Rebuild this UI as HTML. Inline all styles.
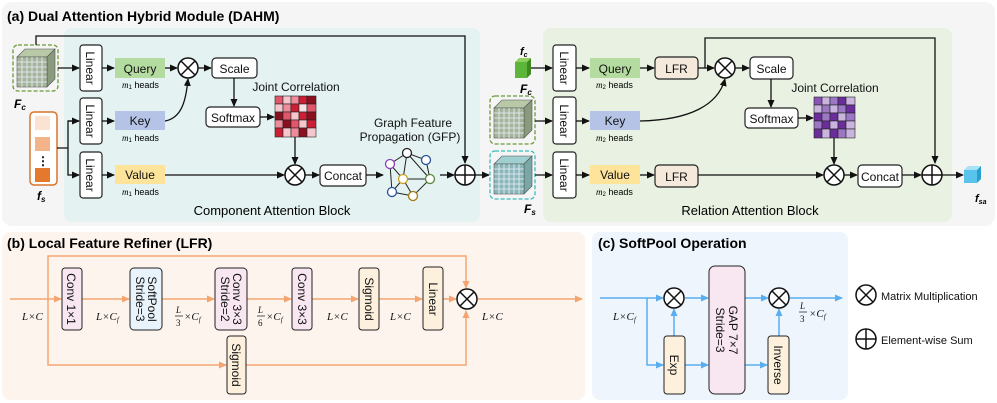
<!DOCTYPE html>
<html><head><meta charset="utf-8"><style>
body{margin:0;background:#fff}
svg{display:block;font-family:"Liberation Sans",sans-serif}
.t{font-size:12px;fill:#111}
.b{fill:#fff;stroke:#222;stroke-width:1.2}
.k{stroke:#111;stroke-width:1.3;fill:none}
.o{stroke:#f3a571;stroke-width:1.5;fill:none}
.u{stroke:#5aaef0;stroke-width:1.5;fill:none}
.m{font-family:"Liberation Serif",serif;font-style:italic;font-size:11px;fill:#111}
</style></head><body>
<svg width="997" height="403" viewBox="0 0 997 403">
<defs>
<marker id="ak" markerWidth="8" markerHeight="8" refX="7" refY="4" orient="auto" markerUnits="userSpaceOnUse"><path d="M0,0.5 L8,4 L0,7.5z" fill="#111"/></marker>
<marker id="ao" markerWidth="8" markerHeight="8" refX="7" refY="4" orient="auto" markerUnits="userSpaceOnUse"><path d="M0,0.5 L8,4 L0,7.5z" fill="#f3a571"/></marker>
<marker id="au" markerWidth="8" markerHeight="8" refX="7" refY="4" orient="auto" markerUnits="userSpaceOnUse"><path d="M0,0.5 L8,4 L0,7.5z" fill="#5aaef0"/></marker>
<g id="gcube">
<polygon points="0,8 8,0 38,0 30,8" fill="#b9c9a8" stroke="#555" stroke-width="0.6"/>
<polygon points="30,8 38,0 38,30 30,38" fill="#8a9a7c" stroke="#555" stroke-width="0.6"/>
<rect x="0" y="8" width="30" height="30" fill="#a5b59a" stroke="#555" stroke-width="0.6"/>
<path d="M5,8v30M10,8v30M15,8v30M20,8v30M25,8v30M0,13h30M0,18h30M0,23h30M0,28h30M0,33h30" stroke="#eef" stroke-width="0.8"/>
</g>
<g id="ccube">
<polygon points="0,8 8,0 38,0 30,8" fill="#9fcfcf" stroke="#555" stroke-width="0.6"/>
<polygon points="30,8 38,0 38,30 30,38" fill="#7aa6a6" stroke="#555" stroke-width="0.6"/>
<rect x="0" y="8" width="30" height="30" fill="#8ab8b8" stroke="#555" stroke-width="0.6"/>
<path d="M5,8v30M10,8v30M15,8v30M20,8v30M25,8v30M0,13h30M0,18h30M0,23h30M0,28h30M0,33h30" stroke="#eef" stroke-width="0.8"/>
</g>
<g id="otimes"><circle r="10" fill="#fff" stroke="#111" stroke-width="1.5"/><path d="M-7,-7L7,7M7,-7L-7,7" stroke="#111" stroke-width="1.5"/></g>
<g id="oplus"><circle r="10" fill="#fff" stroke="#111" stroke-width="1.5"/><path d="M-10,0H10M0,-10V10" stroke="#111" stroke-width="1.5"/></g>
</defs>

<!-- Panel A -->
<rect x="2" y="2" width="993" height="224" rx="10" fill="#f5f5f5"/>
<rect x="64" y="28" width="416" height="194" rx="8" fill="#e4f2f1"/>
<rect x="543" y="28" width="409" height="194" rx="8" fill="#e9f2e2"/>
<text x="7" y="21" style="font-size:14px;font-weight:bold">(a)  Dual Attention Hybrid Module  (DAHM)</text>

<rect x="13" y="45" width="45" height="46" rx="5" fill="none" stroke="#6a9a3a" stroke-width="1.3" stroke-dasharray="4,2"/>
<use href="#gcube" x="17" y="49"/>
<text x="14" y="108" style="font-size:12px;font-weight:bold;font-style:italic">F<tspan style="font-size:8px" dy="2">c</tspan></text>
<rect x="30" y="112" width="27" height="73" rx="4" fill="#fff" stroke="#d9742c" stroke-width="1.5"/>
<rect x="35" y="116" width="15" height="14" fill="#fbe3d4"/>
<rect x="35" y="137" width="15" height="14" fill="#f3b48a"/>
<text x="43" y="165" text-anchor="middle" style="font-size:12px;font-weight:bold">⋮</text>
<rect x="35" y="168" width="15" height="14" fill="#e4792e"/>
<text x="37" y="200" style="font-size:12px;font-weight:bold;font-style:italic">f<tspan style="font-size:8px" dy="2">s</tspan></text>

<path class="k" d="M36,45V36H465V163" marker-end="url(#ak)"/>
<path class="k" d="M58,68H79" marker-end="url(#ak)"/>
<path class="k" d="M57,148H68V121H79M68,148V175H79" marker-end="url(#ak)"/>
<path class="k" d="M68,121H79" marker-end="url(#ak)"/>

<rect class="b" x="80" y="45" width="22" height="46" rx="3"/>
<rect class="b" x="80" y="98" width="22" height="46" rx="3"/>
<rect class="b" x="80" y="152" width="22" height="46" rx="3"/>
<text class="t" transform="translate(86,68) rotate(90)" text-anchor="middle">Linear</text>
<text class="t" transform="translate(86,121) rotate(90)" text-anchor="middle">Linear</text>
<text class="t" transform="translate(86,175) rotate(90)" text-anchor="middle">Linear</text>
<path class="k" d="M102,68H114" marker-end="url(#ak)"/>
<path class="k" d="M102,121H114" marker-end="url(#ak)"/>
<path class="k" d="M102,175H114" marker-end="url(#ak)"/>
<rect x="115" y="58" width="50" height="20" fill="#b5dca0"/><text class="t" x="140" y="73" text-anchor="middle">Query</text>
<rect x="115" y="111" width="50" height="19" fill="#b4c3e6"/><text class="t" x="140" y="125" text-anchor="middle">Key</text>
<rect x="115" y="165" width="50" height="19" fill="#fde49a"/><text class="t" x="140" y="179" text-anchor="middle">Value</text>
<text x="122" y="88" style="font-size:9px"><tspan style="font-style:italic;font-family:'Liberation Serif'">m</tspan><tspan style="font-size:6px" dy="1">1</tspan><tspan dy="-1"> heads</tspan></text>
<text x="122" y="141" style="font-size:9px"><tspan style="font-style:italic;font-family:'Liberation Serif'">m</tspan><tspan style="font-size:6px" dy="1">1</tspan><tspan dy="-1"> heads</tspan></text>
<text x="122" y="195" style="font-size:9px"><tspan style="font-style:italic;font-family:'Liberation Serif'">m</tspan><tspan style="font-size:6px" dy="1">1</tspan><tspan dy="-1"> heads</tspan></text>
<path class="k" d="M165,68H177" marker-end="url(#ak)"/>
<path class="k" d="M165,121C182,118 186,100 188,79" marker-end="url(#ak)"/>
<use href="#otimes" x="188" y="68"/>
<path class="k" d="M198,68H211" marker-end="url(#ak)"/>
<rect class="b" x="212" y="58" width="45" height="20" rx="4"/><text class="t" x="234.5" y="73" text-anchor="middle">Scale</text>
<path class="k" d="M234,78V106" marker-end="url(#ak)"/>
<rect class="b" x="206" y="107" width="54" height="20" rx="4"/><text class="t" x="233" y="122" text-anchor="middle">Softmax</text>
<path class="k" d="M260,117H274" marker-end="url(#ak)"/>
<text class="t" x="296" y="91" text-anchor="middle">Joint Correlation</text>
<g transform="translate(275,96)">
<rect width="41" height="41" fill="#222"/>
<g stroke="#222" stroke-width="0.6">
<rect x="0" y="0" width="8" height="8" fill="#e0566a"/><rect x="8" y="0" width="8" height="8" fill="#f7c6cd"/><rect x="16" y="0" width="8" height="8" fill="#ee8a99"/><rect x="24" y="0" width="8" height="8" fill="#cc1f35"/><rect x="32" y="0" width="9" height="8" fill="#8a1020"/>
<rect x="0" y="8" width="8" height="8" fill="#f7c6cd"/><rect x="8" y="8" width="8" height="8" fill="#ee8a99"/><rect x="16" y="8" width="8" height="8" fill="#cc1f35"/><rect x="24" y="8" width="8" height="8" fill="#fbe0e4"/><rect x="32" y="8" width="9" height="8" fill="#e0566a"/>
<rect x="0" y="16" width="8" height="8" fill="#8a1020"/><rect x="8" y="16" width="8" height="8" fill="#e0566a"/><rect x="16" y="16" width="8" height="8" fill="#f7c6cd"/><rect x="24" y="16" width="8" height="8" fill="#cc1f35"/><rect x="32" y="16" width="9" height="8" fill="#8a1020"/>
<rect x="0" y="24" width="8" height="8" fill="#ee8a99"/><rect x="8" y="24" width="8" height="8" fill="#8a1020"/><rect x="16" y="24" width="8" height="8" fill="#e0566a"/><rect x="24" y="24" width="8" height="8" fill="#f7c6cd"/><rect x="32" y="24" width="9" height="8" fill="#cc1f35"/>
<rect x="0" y="32" width="8" height="9" fill="#cc1f35"/><rect x="8" y="32" width="8" height="9" fill="#f7c6cd"/><rect x="16" y="32" width="8" height="9" fill="#ee8a99"/><rect x="24" y="32" width="8" height="9" fill="#8a1020"/><rect x="32" y="32" width="9" height="9" fill="#f7c6cd"/>
</g></g>
<path class="k" d="M295,137V164" marker-end="url(#ak)"/>
<path class="k" d="M165,175H284" marker-end="url(#ak)"/>
<use href="#otimes" x="295" y="175"/>
<path class="k" d="M305,175H319" marker-end="url(#ak)"/>
<rect class="b" x="320" y="165" width="46" height="21" rx="4"/><text class="t" x="343" y="180" text-anchor="middle">Concat</text>
<path class="k" d="M366,175H383" marker-end="url(#ak)"/>
<text class="t" x="413" y="127" text-anchor="middle">Graph Feature</text>
<text class="t" x="410" y="141" text-anchor="middle">Propagation (GFP)</text>
<g stroke="#222" stroke-width="1" fill="none">
<path d="M407,153L390,164L403,179L392,192L413,196L430,179L426,160L407,153L403,179L430,179M390,164L392,192M407,153L430,179M403,179L413,196"/>
</g>
<g stroke-width="1.3" fill="#fff">
<circle cx="407" cy="153" r="4.5" stroke="#222"/><circle cx="390" cy="164" r="4.5" stroke="#8a3fb8"/><circle cx="426" cy="160" r="4.5" stroke="#2a4f9a"/>
<circle cx="403" cy="179" r="4.5" stroke="#c9a020"/><circle cx="430" cy="179" r="4.5" stroke="#5a8a3a"/><circle cx="392" cy="192" r="4.5" stroke="#2a4f9a"/><circle cx="413" cy="196" r="4.5" stroke="#a07a10"/>
</g>
<path class="k" d="M440,175H454" marker-end="url(#ak)"/>
<use href="#oplus" x="465" y="175"/>
<path class="k" d="M475,175H489" marker-end="url(#ak)"/>
<text x="272" y="215" text-anchor="middle" style="font-size:13px">Component Attention Block</text>

<!-- right half -->
<text x="520" y="55" style="font-size:11px;font-weight:bold;font-style:italic">f<tspan style="font-size:7px" dy="2">c</tspan></text>
<polygon points="515,62 519,58 531,58 527,62" fill="#8fd060"/><polygon points="527,62 531,58 531,74 527,78" fill="#3e8a20"/><rect x="515" y="62" width="12" height="16" fill="#5db53a"/>
<text x="520" y="93" style="font-size:12px;font-weight:bold;font-style:italic">F<tspan style="font-size:8px" dy="2">c</tspan></text>
<rect x="490" y="96" width="45" height="48" rx="5" fill="none" stroke="#6a9a3a" stroke-width="1.3" stroke-dasharray="4,2"/>
<use href="#gcube" x="494" y="100"/>
<rect x="490" y="151" width="45" height="48" rx="5" fill="none" stroke="#3bbcbc" stroke-width="1.3" stroke-dasharray="4,2"/>
<use href="#ccube" x="494" y="156"/>
<text x="524" y="213" style="font-size:12px;font-weight:bold;font-style:italic">F<tspan style="font-size:8px" dy="2">s</tspan></text>
<path class="k" d="M531,68H552" marker-end="url(#ak)"/>
<path class="k" d="M535,121H552" marker-end="url(#ak)"/>
<path class="k" d="M535,175H552" marker-end="url(#ak)"/>
<rect class="b" x="553" y="45" width="23" height="46" rx="3"/>
<rect class="b" x="553" y="97" width="23" height="47" rx="3"/>
<rect class="b" x="553" y="152" width="23" height="46" rx="3"/>
<text class="t" transform="translate(560,68) rotate(90)" text-anchor="middle">Linear</text>
<text class="t" transform="translate(560,121) rotate(90)" text-anchor="middle">Linear</text>
<text class="t" transform="translate(560,175) rotate(90)" text-anchor="middle">Linear</text>
<path class="k" d="M576,68H589" marker-end="url(#ak)"/>
<path class="k" d="M576,121H589" marker-end="url(#ak)"/>
<path class="k" d="M576,175H589" marker-end="url(#ak)"/>
<rect x="590" y="58" width="50" height="20" fill="#b5dca0"/><text class="t" x="615" y="73" text-anchor="middle">Query</text>
<rect x="590" y="111" width="50" height="19" fill="#b4c3e6"/><text class="t" x="615" y="125" text-anchor="middle">Key</text>
<rect x="590" y="165" width="50" height="19" fill="#fde49a"/><text class="t" x="615" y="179" text-anchor="middle">Value</text>
<text x="596" y="88" style="font-size:9px"><tspan style="font-style:italic;font-family:'Liberation Serif'">m</tspan><tspan style="font-size:6px" dy="1">2</tspan><tspan dy="-1"> heads</tspan></text>
<text x="596" y="141" style="font-size:9px"><tspan style="font-style:italic;font-family:'Liberation Serif'">m</tspan><tspan style="font-size:6px" dy="1">2</tspan><tspan dy="-1"> heads</tspan></text>
<text x="596" y="195" style="font-size:9px"><tspan style="font-style:italic;font-family:'Liberation Serif'">m</tspan><tspan style="font-size:6px" dy="1">2</tspan><tspan dy="-1"> heads</tspan></text>
<path class="k" d="M640,68H654" marker-end="url(#ak)"/>
<path class="k" d="M640,175H654" marker-end="url(#ak)"/>
<rect x="655" y="57" width="43" height="22" rx="4" fill="#f5e9dc" stroke="#222" stroke-width="1.2"/><text class="t" x="676.5" y="73" text-anchor="middle">LFR</text>
<rect x="655" y="165" width="43" height="22" rx="4" fill="#f5e9dc" stroke="#222" stroke-width="1.2"/><text class="t" x="676.5" y="181" text-anchor="middle">LFR</text>
<path class="k" d="M698,68H714" marker-end="url(#ak)"/>
<path class="k" d="M705,68V38H935V163" marker-end="url(#ak)"/>
<path class="k" d="M640,121C690,120 718,105 725,79" marker-end="url(#ak)"/>
<use href="#otimes" x="725" y="68"/>
<path class="k" d="M735,68H749" marker-end="url(#ak)"/>
<rect class="b" x="750" y="57" width="43" height="22" rx="4"/><text class="t" x="771.5" y="73" text-anchor="middle">Scale</text>
<path class="k" d="M771,79V107" marker-end="url(#ak)"/>
<rect class="b" x="745" y="108" width="53" height="20" rx="4"/><text class="t" x="771.5" y="123" text-anchor="middle">Softmax</text>
<path class="k" d="M798,118H813" marker-end="url(#ak)"/>
<text class="t" x="835" y="92" text-anchor="middle">Joint Correlation</text>
<g transform="translate(814,97)">
<rect width="41" height="41" fill="#222"/>
<g stroke="#222" stroke-width="0.6">
<rect x="0" y="0" width="8" height="8" fill="#8a55b5"/><rect x="8" y="0" width="8" height="8" fill="#c8b4dd"/><rect x="16" y="0" width="8" height="8" fill="#9b77c4"/><rect x="24" y="0" width="8" height="8" fill="#6a2d9a"/><rect x="32" y="0" width="9" height="8" fill="#c8b4dd"/>
<rect x="0" y="8" width="8" height="8" fill="#c8b4dd"/><rect x="8" y="8" width="8" height="8" fill="#9b77c4"/><rect x="16" y="8" width="8" height="8" fill="#c8b4dd"/><rect x="24" y="8" width="8" height="8" fill="#9b77c4"/><rect x="32" y="8" width="9" height="8" fill="#6a2d9a"/>
<rect x="0" y="16" width="8" height="8" fill="#6a2d9a"/><rect x="8" y="16" width="8" height="8" fill="#9b77c4"/><rect x="16" y="16" width="8" height="8" fill="#6a2d9a"/><rect x="24" y="16" width="8" height="8" fill="#c8b4dd"/><rect x="32" y="16" width="9" height="8" fill="#9b77c4"/>
<rect x="0" y="24" width="8" height="8" fill="#9b77c4"/><rect x="8" y="24" width="8" height="8" fill="#6a2d9a"/><rect x="16" y="24" width="8" height="8" fill="#c8b4dd"/><rect x="24" y="24" width="8" height="8" fill="#6a2d9a"/><rect x="32" y="24" width="9" height="8" fill="#c8b4dd"/>
<rect x="0" y="32" width="8" height="9" fill="#6a2d9a"/><rect x="8" y="32" width="8" height="9" fill="#c8b4dd"/><rect x="16" y="32" width="8" height="9" fill="#6a2d9a"/><rect x="24" y="32" width="8" height="9" fill="#9b77c4"/><rect x="32" y="32" width="9" height="9" fill="#c8b4dd"/>
</g></g>
<path class="k" d="M834,138V164" marker-end="url(#ak)"/>
<path class="k" d="M698,175H823" marker-end="url(#ak)"/>
<use href="#otimes" x="834" y="175"/>
<path class="k" d="M844,175H857" marker-end="url(#ak)"/>
<rect class="b" x="858" y="165" width="44" height="22" rx="4"/><text class="t" x="880" y="181" text-anchor="middle">Concat</text>
<path class="k" d="M902,175H921" marker-end="url(#ak)"/>
<use href="#oplus" x="932" y="175"/>
<path class="k" d="M942,175H963" marker-end="url(#ak)"/>
<polygon points="964,170 968,166 981,166 977,170" fill="#a7e3f5"/><polygon points="977,170 981,166 981,179 977,183" fill="#2a9fcf"/><rect x="964" y="170" width="13" height="13" fill="#58c4ec"/>
<text x="975" y="202" style="font-size:11px;font-weight:bold;font-style:italic">f<tspan style="font-size:7px" dy="2">sa</tspan></text>
<text x="750" y="215" text-anchor="middle" style="font-size:13px">Relation Attention Block</text>

<!-- Panel B -->
<rect x="2" y="232" width="583" height="168" rx="8" fill="#fdf4ee"/>
<text x="7" y="248" style="font-size:14px;font-weight:bold">(b) Local Feature Refiner (LFR)</text>
<path class="o" d="M10,299H61" marker-end="url(#ao)"/>
<path class="o" d="M48,299V256H466V288" marker-end="url(#ao)"/>
<path class="o" d="M48,299V365H226" marker-end="url(#ao)"/>
<path class="o" d="M246,365H466V311" marker-end="url(#ao)"/>
<path class="o" d="M82,299H129" marker-end="url(#ao)"/>
<path class="o" d="M162,299H214" marker-end="url(#ao)"/>
<path class="o" d="M247,299H291" marker-end="url(#ao)"/>
<path class="o" d="M312,299H358" marker-end="url(#ao)"/>
<path class="o" d="M379,299H422" marker-end="url(#ao)"/>
<path class="o" d="M443,299H456" marker-end="url(#ao)"/>
<path class="o" d="M478,299H582" marker-end="url(#ao)"/>
<use href="#otimes" x="467" y="299"/>
<rect x="62" y="268" width="20" height="62" rx="3" fill="#f8e6f0" stroke="#222"/>
<text class="t" transform="translate(67,299) rotate(90)" text-anchor="middle">Conv 1×1</text>
<rect x="130" y="268" width="32" height="62" rx="4" fill="#e8f3fc" stroke="#222"/>
<text class="t" transform="translate(148,299) rotate(90)" text-anchor="middle">SoftPool</text>
<text class="t" transform="translate(136,299) rotate(90)" text-anchor="middle">Stride=3</text>
<rect x="215" y="268" width="32" height="62" rx="4" fill="#f8e6f0" stroke="#222"/>
<text class="t" transform="translate(233,299) rotate(90)" text-anchor="middle">Conv 3×3</text>
<text class="t" transform="translate(221,299) rotate(90)" text-anchor="middle">Stride=2</text>
<rect x="292" y="268" width="20" height="62" rx="3" fill="#f8e6f0" stroke="#222"/>
<text class="t" transform="translate(298,299) rotate(90)" text-anchor="middle">Conv 3×3</text>
<rect x="359" y="268" width="20" height="62" rx="3" fill="#fdf0dc" stroke="#222"/>
<text class="t" transform="translate(365,299) rotate(90)" text-anchor="middle">Sigmoid</text>
<rect x="423" y="267" width="20" height="63" rx="3" fill="#fdf0dc" stroke="#222"/>
<text class="t" transform="translate(429,299) rotate(90)" text-anchor="middle">Linear</text>
<rect x="227" y="336" width="19" height="58" rx="3" fill="#fdf0dc" stroke="#222"/>
<text class="t" transform="translate(232,365) rotate(90)" text-anchor="middle">Sigmoid</text>
<text class="m" x="22" y="320">L×C</text>
<text class="m" x="96" y="320">L×C<tspan style="font-size:7px" dy="2">f</tspan></text>
<text class="m" x="176" y="313" style="font-size:9px">L</text><path d="M175,316H183" stroke="#111" stroke-width="0.7"/><text class="m" x="176" y="326" style="font-size:9px;font-style:normal">3</text><text class="m" x="184" y="320">×C<tspan style="font-size:7px" dy="2">f</tspan></text>
<text class="m" x="258" y="313" style="font-size:9px">L</text><path d="M257,316H265" stroke="#111" stroke-width="0.7"/><text class="m" x="258" y="326" style="font-size:9px;font-style:normal">6</text><text class="m" x="266" y="320">×C<tspan style="font-size:7px" dy="2">f</tspan></text>
<text class="m" x="327" y="320">L×C</text>
<text class="m" x="390" y="320">L×C</text>
<text class="m" x="482" y="320">L×C</text>

<!-- Panel C -->
<rect x="592" y="232" width="256" height="168" rx="8" fill="#eef5fd"/>
<text x="598" y="248" style="font-size:14px;font-weight:bold">(c)  SoftPool Operation</text>
<path class="u" d="M600,298H663" marker-end="url(#au)"/>
<path class="u" d="M647,298V365H663" marker-end="url(#au)"/>
<path class="u" d="M674,336V309" marker-end="url(#au)"/>
<path class="u" d="M685,298H708" marker-end="url(#au)"/>
<path class="u" d="M685,365H708" marker-end="url(#au)"/>
<path class="u" d="M745,298H768" marker-end="url(#au)"/>
<path class="u" d="M745,365H767" marker-end="url(#au)"/>
<path class="u" d="M779,336V309" marker-end="url(#au)"/>
<path class="u" d="M790,298H842" marker-end="url(#au)"/>
<use href="#otimes" x="674" y="298"/>
<use href="#otimes" x="779" y="298"/>
<rect x="664" y="336" width="21" height="58" rx="3" fill="#fdf0dc" stroke="#222"/>
<text class="t" transform="translate(670,365) rotate(90)" text-anchor="middle">Exp</text>
<rect x="709" y="266" width="36" height="128" rx="6" fill="#f8e6f0" stroke="#222"/>
<text class="t" transform="translate(729,330) rotate(90)" text-anchor="middle">GAP 7×7</text>
<text class="t" transform="translate(716,330) rotate(90)" text-anchor="middle">Stride=3</text>
<rect x="768" y="336" width="21" height="58" rx="3" fill="#fdf0dc" stroke="#222"/>
<text class="t" transform="translate(774,365) rotate(90)" text-anchor="middle">Inverse</text>
<text class="m" x="613" y="320">L×C<tspan style="font-size:7px" dy="2">f</tspan></text>
<text class="m" x="800" y="309" style="font-size:9px">L</text><path d="M799,312H807" stroke="#111" stroke-width="0.7"/><text class="m" x="800" y="322" style="font-size:9px;font-style:normal">3</text><text class="m" x="809" y="317">×C<tspan style="font-size:7px" dy="2">f</tspan></text>

<use href="#otimes" x="866" y="295"/>
<text class="t" x="881" y="300" style="font-size:11px">Matrix Multiplication</text>
<use href="#oplus" x="866" y="339"/>
<text class="t" x="881" y="344" style="font-size:11px">Element-wise Sum</text>
</svg>
</body></html>
